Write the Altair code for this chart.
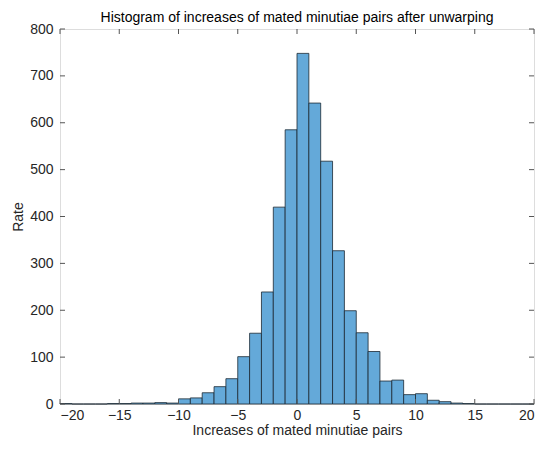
import altair as alt
import pandas as pd

bin_starts = list(range(-20, 20))
counts = [1, 0, 0, 0, 1, 1, 2, 2, 3, 2,
          11, 13, 24, 37, 54, 101, 151, 239, 420, 585,
          748, 642, 518, 327, 199, 152, 112, 49, 51, 20,
          22, 8, 5, 2, 1, 0, 0, 0, 0, 0]
x_ticks = [-20, -15, -10, -5, 0, 5, 10, 15, 20]
y_ticks = [0, 100, 200, 300, 400, 500, 600, 700, 800]

df = pd.DataFrame({"start": bin_starts, "end": [b + 1 for b in bin_starts], "count": counts})
xt = pd.DataFrame({"v": x_ticks})
yt = pd.DataFrame({"v": y_ticks})

W, H = 474, 375
FONT = "Liberation Sans"
AX = "#262626"

xscale = alt.Scale(domain=[-20, 20], nice=False, zero=False)
yscale = alt.Scale(domain=[0, 800], nice=False)

bars = alt.Chart(df).mark_rect(fill="#64a9d9", stroke="#1c2833", strokeWidth=0.8).encode(
    x=alt.X("start:Q", scale=xscale,
            axis=alt.Axis(values=x_ticks, title="Increases of mated minutiae pairs", grid=False,
                          ticks=False, domain=False, labelPadding=4, labelFontSize=14,
                          titleFontSize=14, titleFontWeight="normal", titlePadding=1,
                          labelColor=AX, titleColor=AX, labelFont=FONT, titleFont=FONT)),
    x2="end:Q",
    y=alt.Y("count:Q", scale=yscale,
            axis=alt.Axis(values=y_ticks, title="Rate", grid=False, ticks=False, domain=False,
                          labelPadding=7, labelFontSize=14, titleFontSize=14,
                          titleFontWeight="normal", titlePadding=4,
                          labelColor=AX, titleColor=AX, labelFont=FONT, titleFont=FONT)),
    y2=alt.datum(0),
)

TL = 5
tick_col = "#555555"
xb = alt.Chart(xt).mark_rule(color=tick_col, strokeWidth=1).encode(
    x=alt.X("v:Q", scale=xscale), y=alt.value(H), y2=alt.value(H - TL))
xtop = alt.Chart(xt).mark_rule(color=tick_col, strokeWidth=1).encode(
    x=alt.X("v:Q", scale=xscale), y=alt.value(0), y2=alt.value(TL))
yl = alt.Chart(yt).mark_rule(color=tick_col, strokeWidth=1).encode(
    y=alt.Y("v:Q", scale=yscale), x=alt.value(0), x2=alt.value(TL))
yr = alt.Chart(yt).mark_rule(color=tick_col, strokeWidth=1).encode(
    y=alt.Y("v:Q", scale=yscale), x=alt.value(W), x2=alt.value(W - TL))

chart = alt.layer(bars, xb, xtop, yl, yr).properties(
    width=W, height=H,
    title=alt.TitleParams("Histogram of increases of mated minutiae pairs after unwarping",
                          fontSize=14, fontWeight="normal", font=FONT, color="#000000", offset=-3),
    autosize=alt.AutoSizeParams(type="none"),
    padding={"left": 52, "top": 21, "right": 8, "bottom": 37},
).configure_view(stroke="#7a7a7a", strokeWidth=1).configure(background="white")

chart.save("out.html", embed_options={"renderer": "svg", "actions": False})
